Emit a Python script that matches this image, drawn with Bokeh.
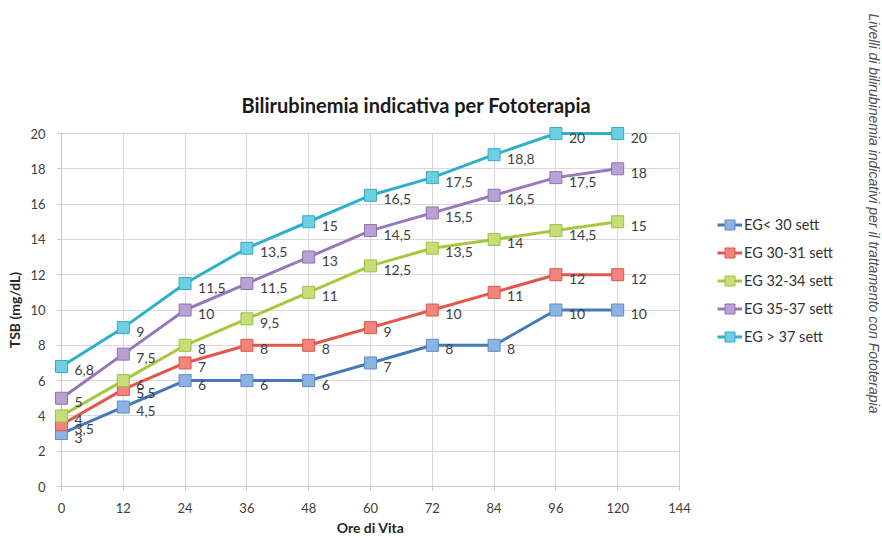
import math
from bokeh.plotting import figure
from bokeh.layouts import row
from bokeh.models import (ColumnDataSource, FixedTicker, Legend, LegendItem,
                          Range1d)
from bokeh.core.properties import value
from bokeh.embed import file_html
from bokeh.resources import INLINE

# ---------------- data ----------------
title_text = "Bilirubinemia indicativa per Fototerapia"
side_note = "Livelli di bilirubinemia indicativi per il trattamento con Fototerapia"
x_title = "Ore di Vita"
y_title = "TSB (mg/dL)"

x_tick_labels = ["0", "12", "24", "36", "48", "60", "72", "84", "96", "120", "144"]
hours = [0, 12, 24, 36, 48, 60, 72, 84, 96, 120]
y_ticks = [0, 2, 4, 6, 8, 10, 12, 14, 16, 18, 20]

series_names = ["EG< 30 sett", "EG 30-31 sett", "EG 32-34 sett",
                "EG 35-37 sett", "EG > 37 sett"]
eg_lt30 = [3, 4.5, 6, 6, 6, 7, 8, 8, 10, 10]
eg_30_31 = [3.5, 5.5, 7, 8, 8, 9, 10, 11, 12, 12]
eg_32_34 = [4, 6, 8, 9.5, 11, 12.5, 13.5, 14, 14.5, 15]
eg_35_37 = [5, 7.5, 10, 11.5, 13, 14.5, 15.5, 16.5, 17.5, 18]
eg_gt37 = [6.8, 9, 11.5, 13.5, 15, 16.5, 17.5, 18.8, 20, 20]
series_values = [eg_lt30, eg_30_31, eg_32_34, eg_35_37, eg_gt37]

# ---------------- styles ----------------
line_colors = ["#4579b8", "#e4564c", "#a6c83e", "#9678bb", "#2fb0c9"]
marker_fills = ["#8db3e2", "#f2847b", "#c6dd78", "#b9a1d6", "#6fcfe2"]
marker_lines = ["#5d8cc8", "#d9584f", "#9fbf45", "#8f71b3", "#35abc4"]
label_color = "#404040"
FONT = "Lato"

positions = [x_tick_labels.index(str(h)) for h in hours]


def fmt(v):
    return ("%g" % v).replace(".", ",")


# ---------------- main chart ----------------
p = figure(width=700, height=538, output_backend="svg", toolbar_location=None,
           x_range=Range1d(0, len(x_tick_labels) - 1), y_range=Range1d(0, 20),
           min_border_left=61, min_border_right=21, min_border_top=133,
           min_border_bottom=52)
p.background_fill_color = "white"
p.border_fill_color = "white"
p.outline_line_color = "#d4d4d4"

p.title.text = title_text
p.title.align = "left"
p.title.offset = 180
p.title.standoff = 33
p.title.text_font = FONT
p.title.text_font_size = "20px"
p.title.text_font_style = "bold"
p.title.text_color = "#1a1a1a"

p.xaxis.ticker = FixedTicker(ticks=list(range(len(x_tick_labels))))
p.xaxis.major_label_overrides = {i: t for i, t in enumerate(x_tick_labels)}
p.yaxis.ticker = FixedTicker(ticks=y_ticks)
for ax in (p.xaxis, p.yaxis):
    ax.axis_line_color = "#c8c8c8"
    ax.major_tick_line_color = "#c8c8c8"
    ax.major_tick_out = 4
    ax.major_tick_in = 0
    ax.minor_tick_line_color = None
    ax.major_label_text_font = FONT
    ax.major_label_text_font_size = "13px"
    ax.major_label_text_color = "#404040"
    ax.axis_label_text_font = FONT
    ax.axis_label_text_font_size = "14px"
    ax.axis_label_text_font_style = "bold"
    ax.axis_label_text_color = "#262626"
p.xaxis.axis_label = x_title
p.yaxis.axis_label = y_title
p.xaxis.major_label_standoff = 12
p.yaxis.major_label_standoff = 12
p.xaxis.axis_label_standoff = 3
p.yaxis.axis_label_standoff = 4
p.xgrid.ticker = p.xaxis.ticker
p.ygrid.ticker = p.yaxis.ticker
p.xgrid.grid_line_color = "#d9d9d9"
p.ygrid.grid_line_color = "#d9d9d9"

sources = []
for vals, lc, mf, ml in zip(series_values, line_colors, marker_fills, marker_lines):
    src = ColumnDataSource(dict(x=positions, y=vals, lab=[fmt(v) for v in vals]))
    sources.append(src)
    p.line("x", "y", source=src, line_color=lc, line_width=3,
           line_join="round", level="overlay")
    p.scatter("x", "y", source=src, marker="square", size=12,
              fill_color=mf, line_color=ml, line_width=1, level="overlay")

for src in sources:
    p.text("x", "y", text="lab", source=src, x_offset=13, y_offset=4,
           text_align="left", text_baseline="middle",
           text_font=value(FONT), text_font_size="14px",
           text_color=label_color, level="overlay")

# ---------------- side panel: legend + vertical note ----------------
# its frame is aligned with the main frame; the series lie outside its
# ranges, so only their legend entries show here
s = figure(width=182, height=538, output_backend="svg", toolbar_location=None,
           x_range=Range1d(0, 1), y_range=Range1d(0, 1),
           x_axis_type=None, y_axis_type=None, min_border=0)
s.outline_line_color = None
s.background_fill_color = "white"
s.border_fill_color = "white"

items = []
for name, src, lc, mf, ml in zip(series_names, sources, line_colors,
                                 marker_fills, marker_lines):
    lr = s.line("x", "y", source=src, line_color=lc, line_width=3)
    sr = s.scatter("x", "y", source=src, marker="square", size=9,
                   fill_color=mf, line_color=ml, line_width=1)
    items.append(LegendItem(label=name, renderers=[lr, sr]))

legend = Legend(items=items, location=(17, 137))
legend.padding = 0
legend.margin = 0
legend.spacing = 3
legend.glyph_width = 25
legend.glyph_height = 25
legend.label_height = 25
legend.label_standoff = 2
legend.label_text_font = FONT
legend.label_text_font_size = "14.5px"
legend.label_text_color = "#333333"
legend.border_line_color = None
legend.background_fill_alpha = 0
s.add_layout(legend, "center")

note = ColumnDataSource(dict(x=[1], y=[1], t=[side_note]))
s.text("x", "y", text="t", source=note, x_offset=-9, y_offset=80,
       angle=-math.pi / 2, text_align="center", text_baseline="middle",
       text_font=value("Liberation Sans"), text_font_size="14px",
       text_font_style="italic", text_color="#505050", level="overlay")

layout = row(p, s, spacing=0)
open("out.html", "w").write(file_html(layout, INLINE))
